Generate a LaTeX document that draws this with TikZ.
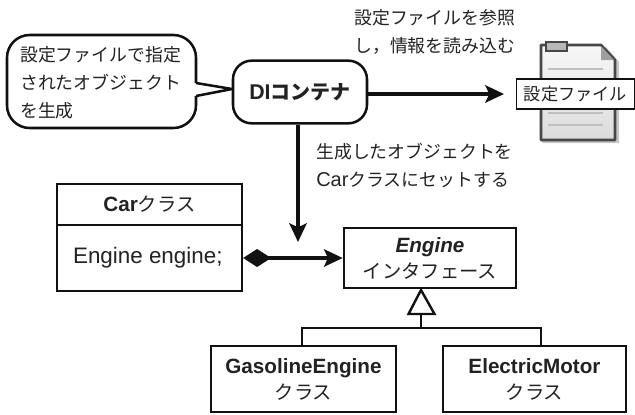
\documentclass[tikz,border=0pt]{standalone}
\usepackage{fontspec}
\setmainfont{Liberation Sans}
\newfontfamily\jp{Noto Sans CJK JP}
\usetikzlibrary{arrows.meta,positioning}
\definecolor{ink}{HTML}{111111}
\definecolor{txt}{HTML}{222222}
\newcommand{\J}[1]{{\jp\fontsize{14.5}{20}\selectfont #1}}
\tikzset{
  x=0.75pt,y=-0.75pt,
  box/.style={draw=ink,line width=1.9pt,fill=white,inner sep=0pt,align=center,text=txt,font=\fontsize{15.5}{19.5}\selectfont},
  lbl/.style={inner sep=0pt,text=txt,align=left,anchor=west,font=\jp\fontsize{13.4}{21}\selectfont},
  conn/.style={draw=ink,line width=2.7pt},
  arr/.style={conn,-{Stealth[length=14pt,width=13pt,inset=3pt]}},
  thinconn/.style={draw=ink,line width=1.8pt},
}
\begin{document}
\begin{tikzpicture}
\useasboundingbox (0,0) rectangle (635,414);
% callout
\draw[draw=ink,line width=1.9pt,fill=white,rounded corners=17pt]
  (196,83) -- (196,35) -- (7,35) -- (7,128) -- (196,128) -- (196,96);
\draw[draw=ink,line width=1.9pt,fill=white,line join=miter] (196,83) -- (232,89) -- (196,96);
\node[lbl] (calltext) at (20,83) {設定ファイルで指定\\されたオブジェクト\\を生成};
% DI container
\node[box,rounded corners=14pt,minimum width=100.5pt,minimum height=47pt,font=\bfseries\fontsize{16}{19}\selectfont] (di) at (300,92) {DI{\jp\bfseries\fontsize{15}{19}\selectfont コンテナ}};
% document icon
\fill[black!22] (541,47) -- (606,47) -- (619,62) -- (619,143) -- (543,143) -- (541,141) -- cycle;
\draw[draw=black!72,line width=2pt,top color=black!3,bottom color=black!14,line join=round] (541,45) -- (601,45) -- (615,60) -- (615,140) -- (541,140) -- cycle;
\fill[black!38] (601,46) -- (614,60) -- (601,60) -- cycle;
\draw[draw=black!72,line width=1.2pt,fill=black!28] (546,42) rectangle (567,51);
\foreach \yy in {69,113,125}{\draw[black!25,line width=1pt] (548,\yy) -- (603,\yy);}
\node[draw=ink,line width=0.9pt,fill=white,inner sep=0pt,minimum width=88.5pt,minimum height=22.5pt,text=txt,font=\jp\fontsize{12.9}{15}\selectfont] (cfg) at (575.5,94) {設定ファイル};
\coordinate (cfgin) at (504,94);
\draw[arr] (di.east |- cfgin) -- (cfgin);
% notes
\node[lbl] (note1) at (354,32) {設定ファイルを参照\\し\char"FF0C 情報を読み込む};
\node[lbl] (note2) at (316,166) {生成したオブジェクトを\\{\fontspec{Liberation Sans}\fontsize{15}{21}\selectfont Car}クラスにセットする};
% Car
\node[box,minimum width=138.5pt,minimum height=30.5pt] (carhead) at (149.5,204.5) {\textbf{Car}\J{クラス}};
\node[box,minimum width=138.5pt,minimum height=49.5pt,font=\fontsize{16.8}{20}\selectfont] (carbody) at (149.5,258) {Engine engine;\hspace{2.5pt}};
% Engine
\node[box,minimum width=129pt,minimum height=45pt] (engine) at (430,258) {\textbf{\textit{Engine}}\\\J{インタフェース}};
% subclasses
\node[box,minimum width=138.5pt,minimum height=49.5pt] (gas) at (303.5,379) {\textbf{GasolineEngine}\\\J{クラス}};
\node[box,minimum width=137pt,minimum height=49.5pt] (ele) at (534.5,379) {\textbf{ElectricMotor}\\\J{クラス}};
% connectors
\coordinate (diTarget) at (298,242);
\draw[arr] (di.south -| diTarget) -- (diTarget);
\draw[conn,{Diamond[length=21pt,width=13.5pt,fill=ink]}-{Stealth[length=14pt,width=13pt,inset=3pt]}] (carbody.east) -- (engine.west |- carbody.east);
\coordinate (junction) at (421,328);
\coordinate (triBase) at (421,314);
\draw[thinconn] (302,346) |- (541,328) -- (541,346);
\draw[thinconn] (junction) -- (triBase);
\draw[thinconn,fill=white,line join=miter] (421,290) -- (434.5,314) -- (408.5,314) -- cycle;
\end{tikzpicture}
\end{document}
